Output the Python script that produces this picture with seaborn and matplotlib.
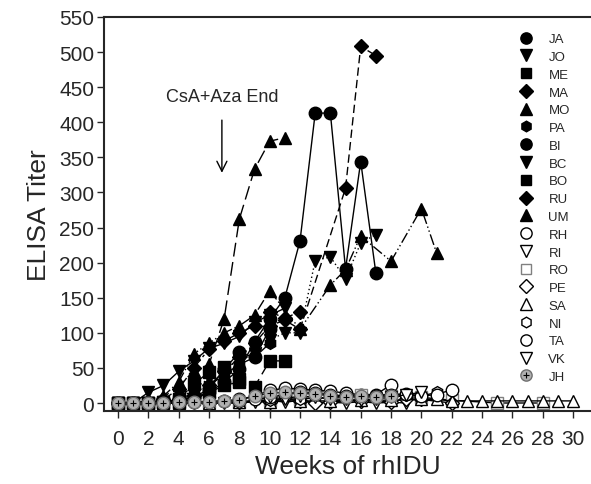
import numpy as np
import pandas as pd
import matplotlib
matplotlib.use("Agg")
import matplotlib.pyplot as plt
from matplotlib.lines import Line2D
import seaborn as sns

sns.set_style("ticks")
plt.rcParams['font.family'] = ['Liberation Sans', 'DejaVu Sans']

# --- data (weeks, ELISA titer) ---
JA_wk = list(range(0, 18))
JA_val = [0, 0, 0, 2, 4, 8, 15, 30, 48, 87, 120, 150, 231, 413, 413, 191, 344, 185]
JO_wk = list(range(0, 12))
JO_val = [0, 0, 15, 25, 45, 60, 78, 85, 95, 115, 125, 135]
ME_wk = list(range(0, 9))
ME_val = [0, 0, 0, 2, 5, 27, 44, 51, 34]
MA_wk = list(range(0, 13))
MA_val = [0, 0, 1, 5, 20, 50, 77, 88, 100, 110, 130, 121, 130]
MO_wk = list(range(0, 12))
MO_val = [0, 0, 2, 8, 25, 45, 55, 120, 262, 333, 373, 378]
PA_wk = list(range(0, 11))
PA_val = [0, 0, 0, 2, 5, 15, 25, 40, 55, 65, 85]
BI_wk = list(range(0, 11))
BI_val = [0, 0, 0, 1, 3, 8, 20, 48, 72, 65, 105]
BC_wk = list(range(0, 18))
BC_val = [0, 0, 0, 2, 5, 20, 35, 50, 60, 70, 90, 100, 100, 203, 208, 177, 228, 240]
BO_wk = list(range(0, 12))
BO_val = [0, 0, 0, 0, 2, 5, 15, 25, 30, 23, 60, 60]
RU_wk = [0, 1, 2, 3, 4, 5, 6, 7, 8, 9, 10, 11, 12, 15, 16, 17]
RU_val = [0, 0, 0, 2, 5, 12, 25, 45, 65, 85, 110, 118, 105, 306, 508, 495]
UM_wk = [0, 1, 2, 3, 4, 5, 6, 7, 8, 9, 10, 12, 14, 15, 16, 18, 20, 21]
UM_val = [0, 0, 3, 10, 30, 70, 85, 100, 110, 125, 160, 105, 168, 190, 238, 202, 277, 214]

RH_wk = list(range(0, 19))
RH_val = [0, 0, 0, 0, 0, 1, 2, 3, 5, 10, 18, 21, 20, 18, 17, 14, 12, 12, 26]
RI_wk = list(range(0, 20))
RI_val = [0, 0, 0, 0, 0, 0, 0, 0, 0, 2, 5, 1, 4, 0, 1, 0, 2, 0, 1, 0]
RO_wk = [0, 2, 4, 6, 8, 10, 12, 14, 16, 18, 20, 22, 25, 28]
RO_val = [0, 0, 0, 1, 2, 4, 6, 8, 12, 10, 8, 4, 0, 0]
PE_wk = [0, 2, 4, 6, 8, 10, 12, 13, 14, 16, 18, 19, 20, 22]
PE_val = [0, 0, 0, 0, 1, 2, 3, 0, 2, 3, 2, 6, 5, 0]
SA_wk = [0, 2, 4, 6, 8, 10, 12, 14, 16, 18, 20, 21, 22, 23, 24, 25, 26, 27, 28, 29, 30]
SA_val = [0, 0, 0, 0, 1, 2, 3, 3, 4, 4, 5, 5, 3, 3, 3, 3, 3, 3, 3, 3, 3]
NI_wk = [0, 2, 4, 6, 8, 10, 12, 14, 16, 18, 19, 20, 21]
NI_val = [0, 0, 0, 0, 2, 4, 6, 8, 10, 12, 12, 10, 15]
TA_wk = list(range(9, 23))
TA_val = [5, 8, 12, 15, 14, 12, 10, 8, 10, 12, 13, 10, 12, 19]
VK_wk = list(range(10, 21))
VK_val = [8, 6, 10, 8, 6, 5, 4, 6, 8, 12, 15]
JH_wk = list(range(0, 19))
JH_val = [0, 0, 0, 0, 1, 2, 2, 3, 4, 10, 14, 15, 14, 13, 10, 8, 10, 8, 10]

subjects = ["JA", "JO", "ME", "MA", "MO", "PA", "BI", "BC", "BO", "RU", "UM",
            "RH", "RI", "RO", "PE", "SA", "NI", "TA", "VK", "JH"]
weeks = [JA_wk, JO_wk, ME_wk, MA_wk, MO_wk, PA_wk, BI_wk, BC_wk, BO_wk, RU_wk, UM_wk,
         RH_wk, RI_wk, RO_wk, PE_wk, SA_wk, NI_wk, TA_wk, VK_wk, JH_wk]
titers = [JA_val, JO_val, ME_val, MA_val, MO_val, PA_val, BI_val, BC_val, BO_val, RU_val, UM_val,
          RH_val, RI_val, RO_val, PE_val, SA_val, NI_val, TA_val, VK_val, JH_val]

# marker, face, edge, linestyle
styles = {
    "JA": ("o", "black", "black", "-"),
    "JO": ("v", "black", "black", "-"),
    "ME": ("s", "black", "black", (0, (5, 3))),
    "MA": ("D", "black", "black", (0, (8, 3, 2, 3))),
    "MO": ("^", "black", "black", (0, (10, 4))),
    "PA": ("h", "black", "black", (0, (6, 2, 1, 2, 1, 2))),
    "BI": ("o", "black", "black", "-"),
    "BC": ("v", "black", "black", (0, (1, 2))),
    "BO": ("s", "black", "black", (0, (10, 4))),
    "RU": ("D", "black", "black", (0, (6, 3))),
    "UM": ("^", "black", "black", (0, (8, 2, 1, 2, 1, 2))),
    "RH": ("o", "white", "black", "-"),
    "RI": ("v", "white", "black", "-"),
    "RO": ("s", "white", "#808080", "-"),
    "PE": ("D", "white", "black", "-"),
    "SA": ("^", "white", "black", "-"),
    "NI": ("h", "white", "black", "-"),
    "TA": ("o", "white", "black", "-"),
    "VK": ("v", "white", "black", "-"),
    "JH": ("o", "#b0b0b0", "#707070", "-"),
}
msize = {"o": 9, "v": 9, "^": 9, "s": 8, "D": 7.5, "h": 8.5}

fig = plt.figure(figsize=(5.91, 4.85), dpi=100)
ax = fig.add_axes([0.176, 0.1505, 0.824, 0.8125])

# open symbols underneath, filled ones on top, JH last
draw_order = [s for s in subjects[11:] + subjects[:11] if s != "JH"] + ["JH"]
for name in draw_order:
    i = subjects.index(name)
    df = pd.DataFrame({"week": weeks[i], "titer": titers[i]})
    m, fc, ec, ls = styles[name]
    sns.lineplot(data=df, x="week", y="titer", ax=ax, estimator=None, sort=False,
                 color="black", linewidth=1.0, linestyle=ls, marker=m,
                 markersize=msize[m], markerfacecolor=fc, markeredgecolor=ec,
                 markeredgewidth=1.0)

# JH plus symbols
ax.plot(JH_wk, JH_val, linestyle="none", marker="+", markersize=4,
        color="black", markeredgewidth=0.8)

ax.set_xlim(-0.92, 31.18)
ax.set_ylim(-11.4, 550)
ax.set_xticks(np.arange(0, 31, 2))
ax.set_yticks(np.arange(0, 551, 50))
ax.tick_params(axis="both", direction="out", length=5, width=1, labelsize=15)
ax.tick_params(axis="x", pad=8)
ax.tick_params(axis="y", pad=2)
for side in ["left", "bottom", "top"]:
    ax.spines[side].set_linewidth(1.5)
ax.spines["right"].set_visible(False)

ax.set_xlabel("Weeks of rhIDU", fontsize=19, labelpad=4)
ax.set_ylabel("ELISA Titer", fontsize=19, labelpad=6)

ax.annotate("", xy=(6.85, 324), xytext=(6.85, 407),
            arrowprops=dict(arrowstyle="->", color="black", lw=1.0,
                            mutation_scale=18))
ax.text(6.85, 436, "CsA+Aza End", fontsize=13, ha="center", va="center")

handles = []
for name in subjects:
    m, fc, ec, ls = styles[name]
    h = Line2D([], [], linestyle="none", marker=m, markersize=msize[m] * 0.9,
               markerfacecolor=fc, markeredgecolor=ec, color="black")
    if name == "JH":
        h = (h, Line2D([], [], linestyle="none", marker="+", markersize=4,
                       color="black", markeredgewidth=0.8))
    handles.append(h)
leg = ax.legend(handles, subjects, loc="upper left", bbox_to_anchor=(0.881, 0.93),
                bbox_transform=fig.transFigure, frameon=False, fontsize=9.5,
                handlelength=0.85, handletextpad=1.25, labelspacing=0.42, borderpad=0,
                borderaxespad=0)

fig.savefig("out.png", dpi=100)
